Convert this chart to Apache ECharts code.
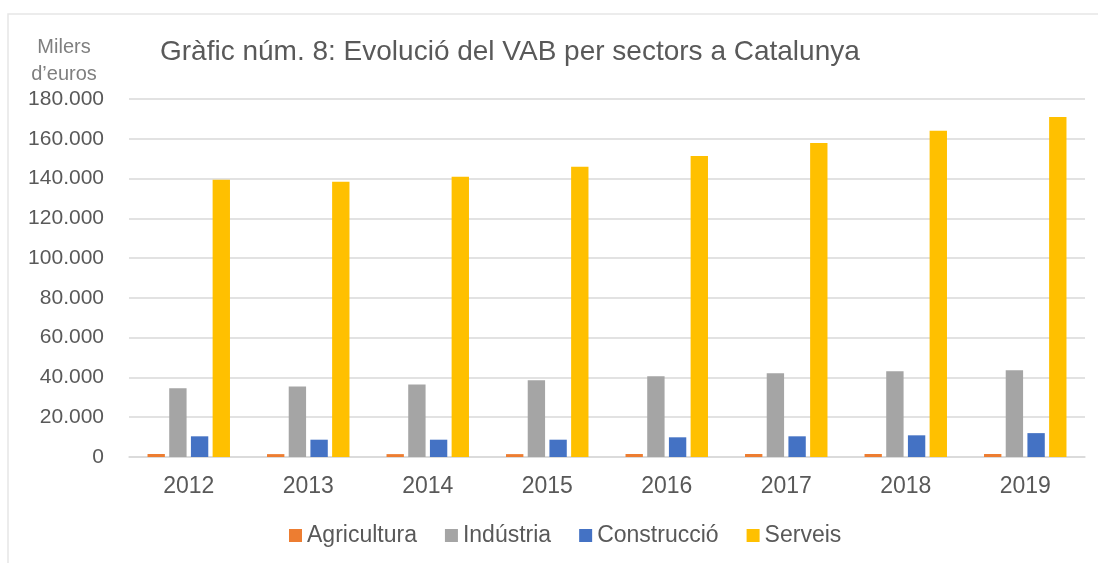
<!DOCTYPE html>
<html>
<head>
<meta charset="utf-8">
<script src="https://cdn.jsdelivr.net/npm/echarts@6/dist/echarts.min.js"></script>
<style>
  html, body { margin: 0; padding: 0; background: #fff; }
  #chart { width: 1098px; height: 563px; }
</style>
</head>
<body>
<div id="chart"></div>
<script>
// anys
const years = ['2012', '2013', '2014', '2015', '2016', '2017', '2018', '2019']
// VAB per sector (milers d'euros)
const agricultura = [1500, 1450, 1450, 1450, 1500, 1500, 1500, 1500]
const industria = [34600, 35400, 36400, 38600, 40600, 42100, 43100, 43600]
const construccio = [10400, 8700, 8700, 8700, 9900, 10400, 10900, 12000]
const serveis = [139400, 138400, 140900, 145900, 151400, 157900, 164000, 171000]
// eix y
const yTicks = [0, 20000, 40000, 60000, 80000, 100000, 120000, 140000, 160000, 180000]

const font = "'Liberation Sans', Arial, sans-serif"
const fmt = v => String(v).replace(/\B(?=(\d{3})+(?!\d))/g, '.')

const chart = echarts.init(document.getElementById('chart'))

const option = {
  animation: false,
  color: ['#ED7D31', '#A5A5A5', '#4472C4', '#FFC000'],
  textStyle: { fontFamily: font },
  graphic: [
    {
      type: 'rect',
      shape: { x: 8, y: 14, width: 1200, height: 700 },
      style: { fill: 'none', stroke: '#e6e6e6', lineWidth: 1.5 },
      silent: true,
    },
    {
      type: 'text',
      x: 64,
      y: 47,
      style: {
        text: 'Milers',
        fill: '#7f7f7f',
        font: '20px ' + font,
        align: 'center',
        verticalAlign: 'middle',
      },
    },
    {
      type: 'text',
      x: 64,
      y: 74,
      style: {
        text: 'd\u2019euros',
        fill: '#7f7f7f',
        font: '20px ' + font,
        align: 'center',
        verticalAlign: 'middle',
      },
    },
  ],
  title: {
    text: 'Gràfic núm. 8: Evolució del VAB per sectors a Catalunya',
    left: 160,
    top: 38,
    padding: 0,
    textStyle: { color: '#595959', fontSize: 28, fontWeight: 'normal', fontFamily: font },
  },
  legend: {
    left: 289,
    top: 524,
    padding: 0,
    itemWidth: 13,
    itemHeight: 13,
    itemGap: 28,
    icon: 'rect',
    textStyle: { color: '#595959', fontSize: 23, fontFamily: font },
    data: ['Agricultura', 'Indústria', 'Construcció', 'Serveis'],
  },
  grid: { left: 129, right: 13, top: 99, bottom: 106, containLabel: false },
  xAxis: {
    type: 'category',
    data: years,
    axisLine: { lineStyle: { color: '#d9d9d9', width: 1.5 } },
    axisTick: { show: false },
    axisLabel: { color: '#595959', fontSize: 23, margin: 18, fontFamily: font },
  },
  yAxis: {
    type: 'value',
    min: yTicks[0],
    max: yTicks[yTicks.length - 1],
    interval: yTicks[1] - yTicks[0],
    axisLine: { show: false },
    axisTick: { show: false },
    splitLine: { lineStyle: { color: '#d9d9d9', width: 1.5 } },
    axisLabel: { color: '#595959', fontSize: 21, margin: 25, fontFamily: font, formatter: fmt },
  },
  series: [
    { name: 'Agricultura', type: 'bar', data: agricultura, barGap: '25%', barCategoryGap: '31%' },
    { name: 'Indústria', type: 'bar', data: industria },
    { name: 'Construcció', type: 'bar', data: construccio },
    { name: 'Serveis', type: 'bar', data: serveis },
  ],
}

chart.setOption(option)
</script>
</body>
</html>
